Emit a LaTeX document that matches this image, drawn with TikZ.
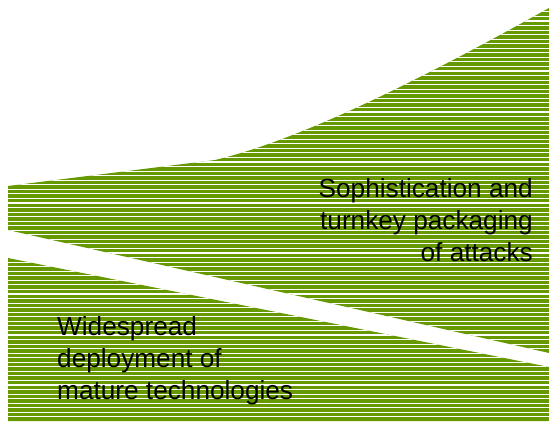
\documentclass[tikz,border=0pt]{standalone}
\usepackage{fontspec}
\setmainfont{Liberation Sans}
\definecolor{leaf}{RGB}{102,153,0}
\begin{document}
\begin{tikzpicture}[x=1pt,y=-1pt,
  lbl/.style={inner sep=0pt,font=\fontsize{26.2pt}{32pt}\selectfont,text=black},
  stripes/.style={draw=white,line width=1.1pt}]
\useasboundingbox (0,0) rectangle (549,422);
\def\upper{(8,186) -- (215,160) .. controls (300,140) and (420,80) .. (549,8) -- (549,353) -- (8,230) -- cycle}
\def\lower{(8,258) -- (549,367) -- (549,421) -- (8,421) -- cycle}
\fill[leaf] \upper;
\fill[leaf] \lower;
\begin{scope}
  \clip \upper;
  \foreach \k in {0,...,95} \draw[stripes] (0,{2.8+4.55*\k}) -- (549,{2.8+4.55*\k});
\end{scope}
\begin{scope}
  \clip \lower;
  \foreach \k in {0,...,95} \draw[stripes] (0,{2.8+4.55*\k}) -- (549,{2.8+4.55*\k});
\end{scope}
\node[lbl,align=right,anchor=north east] (soph) at (533,178) {Sophistication and\\turnkey packaging\\of attacks};
\node[lbl,align=left,anchor=north west] (wide) at (57,316) {Widespread\\deployment of\\mature technologies};
\end{tikzpicture}
\end{document}
